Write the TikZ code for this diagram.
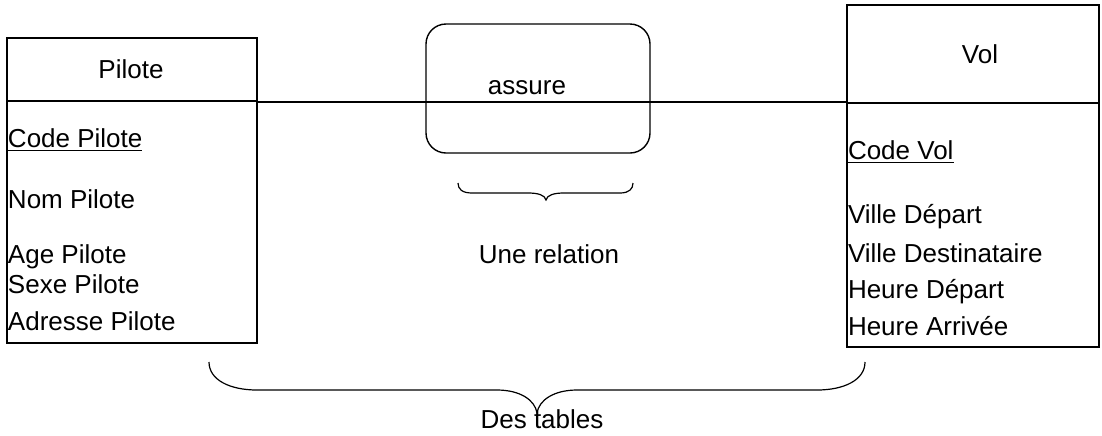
\documentclass[tikz,border=0pt]{standalone}
\usepackage{fontspec}
\setmainfont{Liberation Sans}
\begin{document}
\begin{tikzpicture}[x=0.5pt,y=-0.5pt,
  every node/.style={font=\fontsize{13}{15}\selectfont, inner sep=0pt, outer sep=0pt},
  tablebox/.style={draw, line width=1pt, rectangle},
  relbox/.style={draw, line width=0.7pt, rounded corners=10pt},
  attr/.style={anchor=base west},
  lbl/.style={anchor=base},
  bracepath/.style={draw, line width=0.6pt},
  link/.style={draw, line width=0.75pt}]
\useasboundingbox (0,0) rectangle (1102,435);
% tables
\node[tablebox, minimum width=125pt, minimum height=152.5pt] (pilote) at (132,190.5) {};
\node[tablebox, minimum width=126pt, minimum height=171pt] (vol) at (973,176) {};
\coordinate (ya) at (0,101);
\coordinate (yb) at (0,103);
\coordinate (yc) at (0,102);
\draw[line width=1pt] (pilote.west |- ya) -- (pilote.east |- ya);
\draw[line width=1pt] (vol.west |- yb) -- (vol.east |- yb);
% relation
\node[relbox, minimum width=112pt, minimum height=64.5pt] (rel) at (538,88.5) {};
\coordinate (pdiv) at (pilote.east |- yc);
\coordinate (vdiv) at (vol.west |- yc);
\draw[link] (pdiv) -- (vdiv);
% titles
\node[lbl] (tpilote) at (131,78) {Pilote};
\node[lbl] (tvol) at (980,63) {Vol};
\node[lbl] (tassure) at (527,94) {assure};
% attributes Pilote
\node[attr] (a1) at (8,147) {\underline{Code Pilote}};
\node[attr] (a2) at (8,208) {Nom Pilote};
\node[attr] (a3) at (8,263) {Age Pilote};
\node[attr] (a4) at (8,293) {Sexe Pilote};
\node[attr] (a5) at (8,330) {Adresse Pilote};
% attributes Vol
\node[attr] (b1) at (848,159) {\underline{Code Vol}};
\node[attr] (b2) at (848,223) {Ville Départ};
\node[attr] (b3) at (848,262) {Ville Destinataire};
\node[attr] (b4) at (848,298) {Heure Départ};
\node[attr] (b5) at (848,335) {Heure Arrivée};
% braces
\draw[bracepath] (458,183) .. controls (458,189) and (462,193) .. (472,193) -- (528,193)
  .. controls (538,193) and (545,195) .. (546,200)
  .. controls (547,195) and (554,193) .. (564,193) -- (620,193)
  .. controls (629,193) and (633,189) .. (633,183);
\node[lbl] (trel) at (549,263) {Une relation};
\draw[bracepath] (209,362) .. controls (209,380) and (230,390) .. (257,390) -- (497,390)
  .. controls (520,390) and (535,400) .. (537,413)
  .. controls (539,400) and (554,390) .. (577,390) -- (817,390)
  .. controls (844,390) and (865,380) .. (865,362);
\node[lbl] (ttab) at (542,428) {Des tables};
\end{tikzpicture}
\end{document}
